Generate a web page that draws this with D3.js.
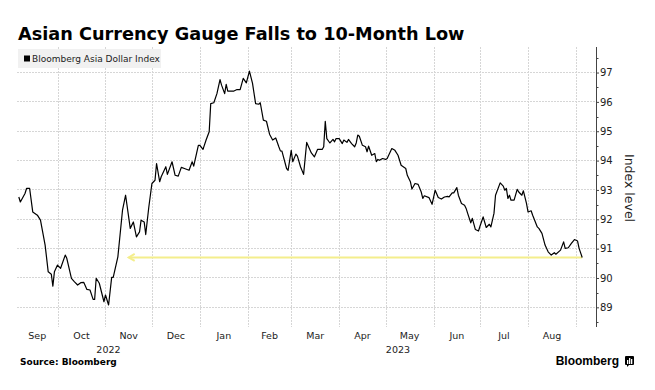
<!DOCTYPE html>
<html><head><meta charset="utf-8">
<script src="https://cdn.jsdelivr.net/npm/d3@7"></script>
<style>
html,body{margin:0;padding:0;background:#fff;}
svg{display:block;}
</style>
</head><body>
<svg id="chart" width="655" height="390"></svg>
<script>
const dates = ["2022-09-06","2022-09-07","2022-09-10","2022-09-11","2022-09-13","2022-09-15","2022-09-18","2022-09-20","2022-09-23","2022-09-25",
"2022-09-27","2022-09-28","2022-09-29","2022-10-01","2022-10-03","2022-10-06","2022-10-07","2022-10-10","2022-10-12","2022-10-14",
"2022-10-16","2022-10-18","2022-10-20","2022-10-22","2022-10-24","2022-10-25","2022-10-26","2022-10-28","2022-10-31","2022-11-01",
"2022-11-03","2022-11-05","2022-11-06","2022-11-09","2022-11-12","2022-11-14","2022-11-17","2022-11-19","2022-11-21","2022-11-23",
"2022-11-24","2022-11-26","2022-11-27","2022-11-29","2022-12-01","2022-12-03","2022-12-04","2022-12-06","2022-12-07","2022-12-10",
"2022-12-11","2022-12-14","2022-12-16","2022-12-18","2022-12-20","2022-12-22","2022-12-25","2022-12-27","2022-12-28","2022-12-31",
"2023-01-01","2023-01-03","2023-01-05","2023-01-07","2023-01-08","2023-01-10","2023-01-12","2023-01-14","2023-01-15","2023-01-17",
"2023-01-18","2023-01-19","2023-01-23","2023-01-25","2023-01-27","2023-01-29","2023-01-31","2023-02-02","2023-02-04","2023-02-06",
"2023-02-08","2023-02-09","2023-02-11","2023-02-13","2023-02-15","2023-02-17","2023-02-19","2023-02-21","2023-02-22","2023-02-23",
"2023-02-26","2023-02-27","2023-03-01","2023-03-02","2023-03-04","2023-03-05","2023-03-07","2023-03-09","2023-03-11","2023-03-14",
"2023-03-16","2023-03-18","2023-03-21","2023-03-22","2023-03-23","2023-03-24","2023-03-26","2023-03-28","2023-03-29","2023-03-30",
"2023-04-01","2023-04-03","2023-04-04","2023-04-06","2023-04-07","2023-04-09","2023-04-11","2023-04-12","2023-04-13","2023-04-14",
"2023-04-16","2023-04-18","2023-04-19","2023-04-20","2023-04-22","2023-04-24","2023-04-25","2023-04-26","2023-04-27","2023-04-29",
"2023-05-01","2023-05-02","2023-05-05","2023-05-07","2023-05-09","2023-05-11","2023-05-14","2023-05-15","2023-05-17","2023-05-18",
"2023-05-20","2023-05-22","2023-05-24","2023-05-25","2023-05-26","2023-05-29","2023-05-31","2023-06-02","2023-06-04","2023-06-06",
"2023-06-08","2023-06-10","2023-06-11","2023-06-13","2023-06-14","2023-06-16","2023-06-17","2023-06-19","2023-06-21","2023-06-22",
"2023-06-23","2023-06-25","2023-06-26","2023-06-28","2023-06-30","2023-07-01","2023-07-03","2023-07-05","2023-07-07","2023-07-08",
"2023-07-10","2023-07-11","2023-07-14","2023-07-16","2023-07-17","2023-07-18","2023-07-19","2023-07-20","2023-07-21","2023-07-23",
"2023-07-25","2023-07-26","2023-07-28","2023-07-29","2023-07-31","2023-08-01","2023-08-03","2023-08-04","2023-08-07","2023-08-08",
"2023-08-10","2023-08-12","2023-08-14","2023-08-16","2023-08-18","2023-08-19","2023-08-22","2023-08-24","2023-08-25","2023-08-27",
"2023-08-29","2023-08-31","2023-09-02","2023-09-03","2023-09-05"];

const values = [92.76,92.59,92.88,93.05,93.05,92.25,92.14,91.97,91.12,90.21,
90.13,89.72,90.21,90.44,90.33,90.78,90.67,89.99,89.87,89.76,
89.84,89.85,89.61,89.59,89.27,89.27,89.99,89.82,89.19,89.42,
89.08,90.02,90.02,90.72,92.31,92.82,91.69,91.91,91.40,91.57,
91.97,91.91,91.48,92.42,93.22,93.33,93.90,93.28,93.45,93.79,
93.53,93.96,93.50,93.47,93.77,93.73,93.67,93.96,93.81,94.52,
94.52,94.38,94.70,94.98,95.94,95.97,96.28,96.76,96.57,96.28,
96.60,96.37,96.37,96.42,96.42,96.80,96.65,97.05,96.63,95.94,
95.92,95.97,95.38,95.34,94.90,94.70,94.77,94.47,94.33,94.32,
93.73,93.67,94.35,93.96,94.22,94.15,93.79,93.53,94.62,94.26,
94.13,94.38,94.38,94.47,95.34,94.75,94.60,94.72,94.64,94.75,
94.75,94.58,94.70,94.62,94.72,94.58,94.47,94.60,94.87,94.83,
94.52,94.47,94.30,94.49,94.18,94.24,93.96,94.04,94.01,94.07,
94.04,94.07,94.41,94.35,94.18,93.84,93.73,93.50,93.28,93.03,
93.22,93.19,92.93,92.71,92.80,92.74,92.51,92.99,92.74,92.69,
92.76,92.78,92.76,92.90,92.90,93.08,92.82,92.54,92.48,92.37,
92.20,91.88,92.03,91.65,91.60,91.77,92.08,91.72,91.83,91.74,
92.20,92.82,93.24,93.13,92.99,93.05,92.71,92.82,92.65,92.65,
93.02,92.93,92.82,92.97,92.54,92.25,92.29,92.14,91.74,91.69,
91.52,91.12,90.89,90.78,90.86,90.81,90.95,91.23,91.01,91.03,
91.18,91.31,91.26,91.01,90.70];

const yTicks = [89,90,91,92,93,94,95,96,97];
const monthLabels = ["Jan","Feb","Mar","Apr","May","Jun","Jul","Aug","Sep","Oct","Nov","Dec"];
const arrowDates = ["2022-11-16","2023-09-05"];
const arrowLevel = 90.70;
const title = "Asian Currency Gauge Falls to 10-Month Low";
const legendLabel = "Bloomberg Asia Dollar Index";
const axisTitle = "Index level";
const source = "Source: Bloomberg";

const parse = d3.timeParse("%Y-%m-%d");
const data = dates.map((d,i)=>({date: parse(d), value: values[i]}));

const svg = d3.select("#chart");
const plot = {left:17, right:596, top:47, bottom:327};

const x = d3.scaleTime()
  .domain([new Date(2022,8,4,20), new Date(2023,8,13,22)])
  .range([plot.left, plot.right]);
const y = d3.scaleLinear()
  .domain([88.33, 97.87])
  .range([plot.bottom, plot.top]);

const FONT = "'DejaVu Sans', Verdana, sans-serif";

// Title
svg.append("text").attr("x",18).attr("y",40)
  .attr("font-family",FONT).attr("font-weight","bold").attr("font-size",17.7)
  .attr("fill","#000").text(title);

// gridlines
const g = svg.append("g");
g.selectAll("line.h").data(yTicks).enter().append("line")
  .attr("x1",plot.left).attr("x2",plot.right)
  .attr("y1",d=>y(d)).attr("y2",d=>y(d))
  .attr("stroke","#d6d6d6").attr("stroke-width",1).attr("stroke-dasharray","2,1")
  .attr("shape-rendering","crispEdges");

const [d0,d1] = x.domain();
const monthStarts = d3.timeMonth.range(d3.timeMonth.ceil(d0), d1);
g.selectAll("line.v").data(monthStarts).enter().append("line")
  .attr("x1",d=>Math.round(x(d))+0.5).attr("x2",d=>Math.round(x(d))+0.5)
  .attr("y1",plot.top).attr("y2",plot.bottom)
  .attr("stroke","#d6d6d6").attr("stroke-width",1).attr("stroke-dasharray","2,1");

// Month labels centered on visible span
const months = d3.timeMonth.range(d3.timeMonth.floor(d0), d1);
const monthSpans = months.map(m=>{
  const a = d3.max([m,d0]), b = d3.min([d3.timeMonth.offset(m,1), d1]);
  return {m, a, b, w: x(b)-x(a)};
}).filter(s=>s.w>30);
svg.selectAll("text.month").data(monthSpans).enter().append("text")
  .attr("x",s=>(x(s.a)+x(s.b))/2).attr("y",339)
  .attr("text-anchor","middle").attr("font-family",FONT).attr("font-size",9.5)
  .attr("fill","#222").text(s=>monthLabels[s.m.getMonth()]);

const years = d3.timeYear.range(d3.timeYear.floor(d0), d1);
const yearSpans = years.map(yy=>{
  const a = d3.max([yy,d0]), b = d3.min([d3.timeYear.offset(yy,1), d1]);
  return {yy, a, b};
});
svg.selectAll("text.year").data(yearSpans).enter().append("text")
  .attr("x",s=>(x(s.a)+x(s.b))/2).attr("y",352.5)
  .attr("text-anchor","middle").attr("font-family",FONT).attr("font-size",9.5)
  .attr("fill","#222").text(s=>s.yy.getFullYear());

// Right axis
const axis = d3.axisRight(y).tickValues(yTicks).tickSize(3).tickPadding(1).tickFormat(d3.format("d"));
const ax = svg.append("g").attr("transform",`translate(${plot.right},0)`).call(axis);
ax.select(".domain").attr("stroke","#444").attr("d",`M0.5,${plot.top}V${plot.bottom}`);
ax.selectAll(".tick line").attr("stroke","#444").attr("x1",0.5).attr("x2",3);
ax.selectAll(".tick text").attr("font-family",FONT).attr("font-size",10).attr("fill","#222");
const minor = d3.range(88.5, 98, 1);
ax.selectAll("line.minor").data(minor).enter().append("line")
  .attr("x1",0.5).attr("x2",2.5).attr("y1",d=>Math.round(y(d))+0.5).attr("y2",d=>Math.round(y(d))+0.5)
  .attr("stroke","#444");

svg.append("text")
  .attr("transform",`translate(625,${(plot.top+plot.bottom)/2 + 1}) rotate(90)`)
  .attr("text-anchor","middle").attr("font-family",FONT).attr("font-size",12.5)
  .attr("fill","#222").text(axisTitle);

// Legend
svg.append("rect").attr("x",18).attr("y",49).attr("width",143).attr("height",19).attr("fill","#f1f1f1");
svg.append("rect").attr("x",24).attr("y",55.5).attr("width",6).attr("height",6).attr("fill","#000");
svg.append("text").attr("x",32).attr("y",62).attr("font-family",FONT).attr("font-size",9)
  .attr("fill","#222").text(legendLabel);

// Yellow arrow annotation
const ax0 = x(parse(arrowDates[0])), ax1 = x(parse(arrowDates[1])), ay = y(arrowLevel);
svg.append("line").attr("x1",ax0).attr("x2",ax1).attr("y1",ay).attr("y2",ay)
  .attr("stroke","#f4ee8c").attr("stroke-width",2);
svg.append("path")
  .attr("d",`M${ax0+6},${ay-3.5}L${ax0},${ay}L${ax0+6},${ay+3.5}`)
  .attr("fill","none").attr("stroke","#f4ee8c").attr("stroke-width",2);

// Line
const line = d3.line().x(d=>x(d.date)).y(d=>y(d.value));
svg.append("path").datum(data).attr("d",line)
  .attr("fill","none").attr("stroke","#000").attr("stroke-width",1.2).attr("stroke-linejoin","round");

// Footer
svg.append("text").attr("x",20).attr("y",365).attr("font-family",FONT)
  .attr("font-weight","bold").attr("font-size",9).attr("fill","#000").text(source);
svg.append("text").attr("x",619).attr("y",365).attr("text-anchor","end")
  .attr("font-family","'Liberation Sans', Arial, sans-serif").attr("font-weight","bold")
  .attr("font-size",12).attr("fill","#000").text("Bloomberg");
const logo = svg.append("g").attr("transform","translate(625,356)");
logo.append("rect").attr("width",9).attr("height",9).attr("rx",1).attr("fill","#000");
logo.append("path").attr("d","M2,9 L2,11 L4,9 Z").attr("fill","#000");
logo.append("rect").attr("x",2).attr("y",4).attr("width",1.3).attr("height",4).attr("fill","#fff");
logo.append("rect").attr("x",4).attr("y",2).attr("width",1.3).attr("height",6).attr("fill","#fff");
logo.append("rect").attr("x",6).attr("y",3).attr("width",1.3).attr("height",5).attr("fill","#fff");
</script>
</body></html>
